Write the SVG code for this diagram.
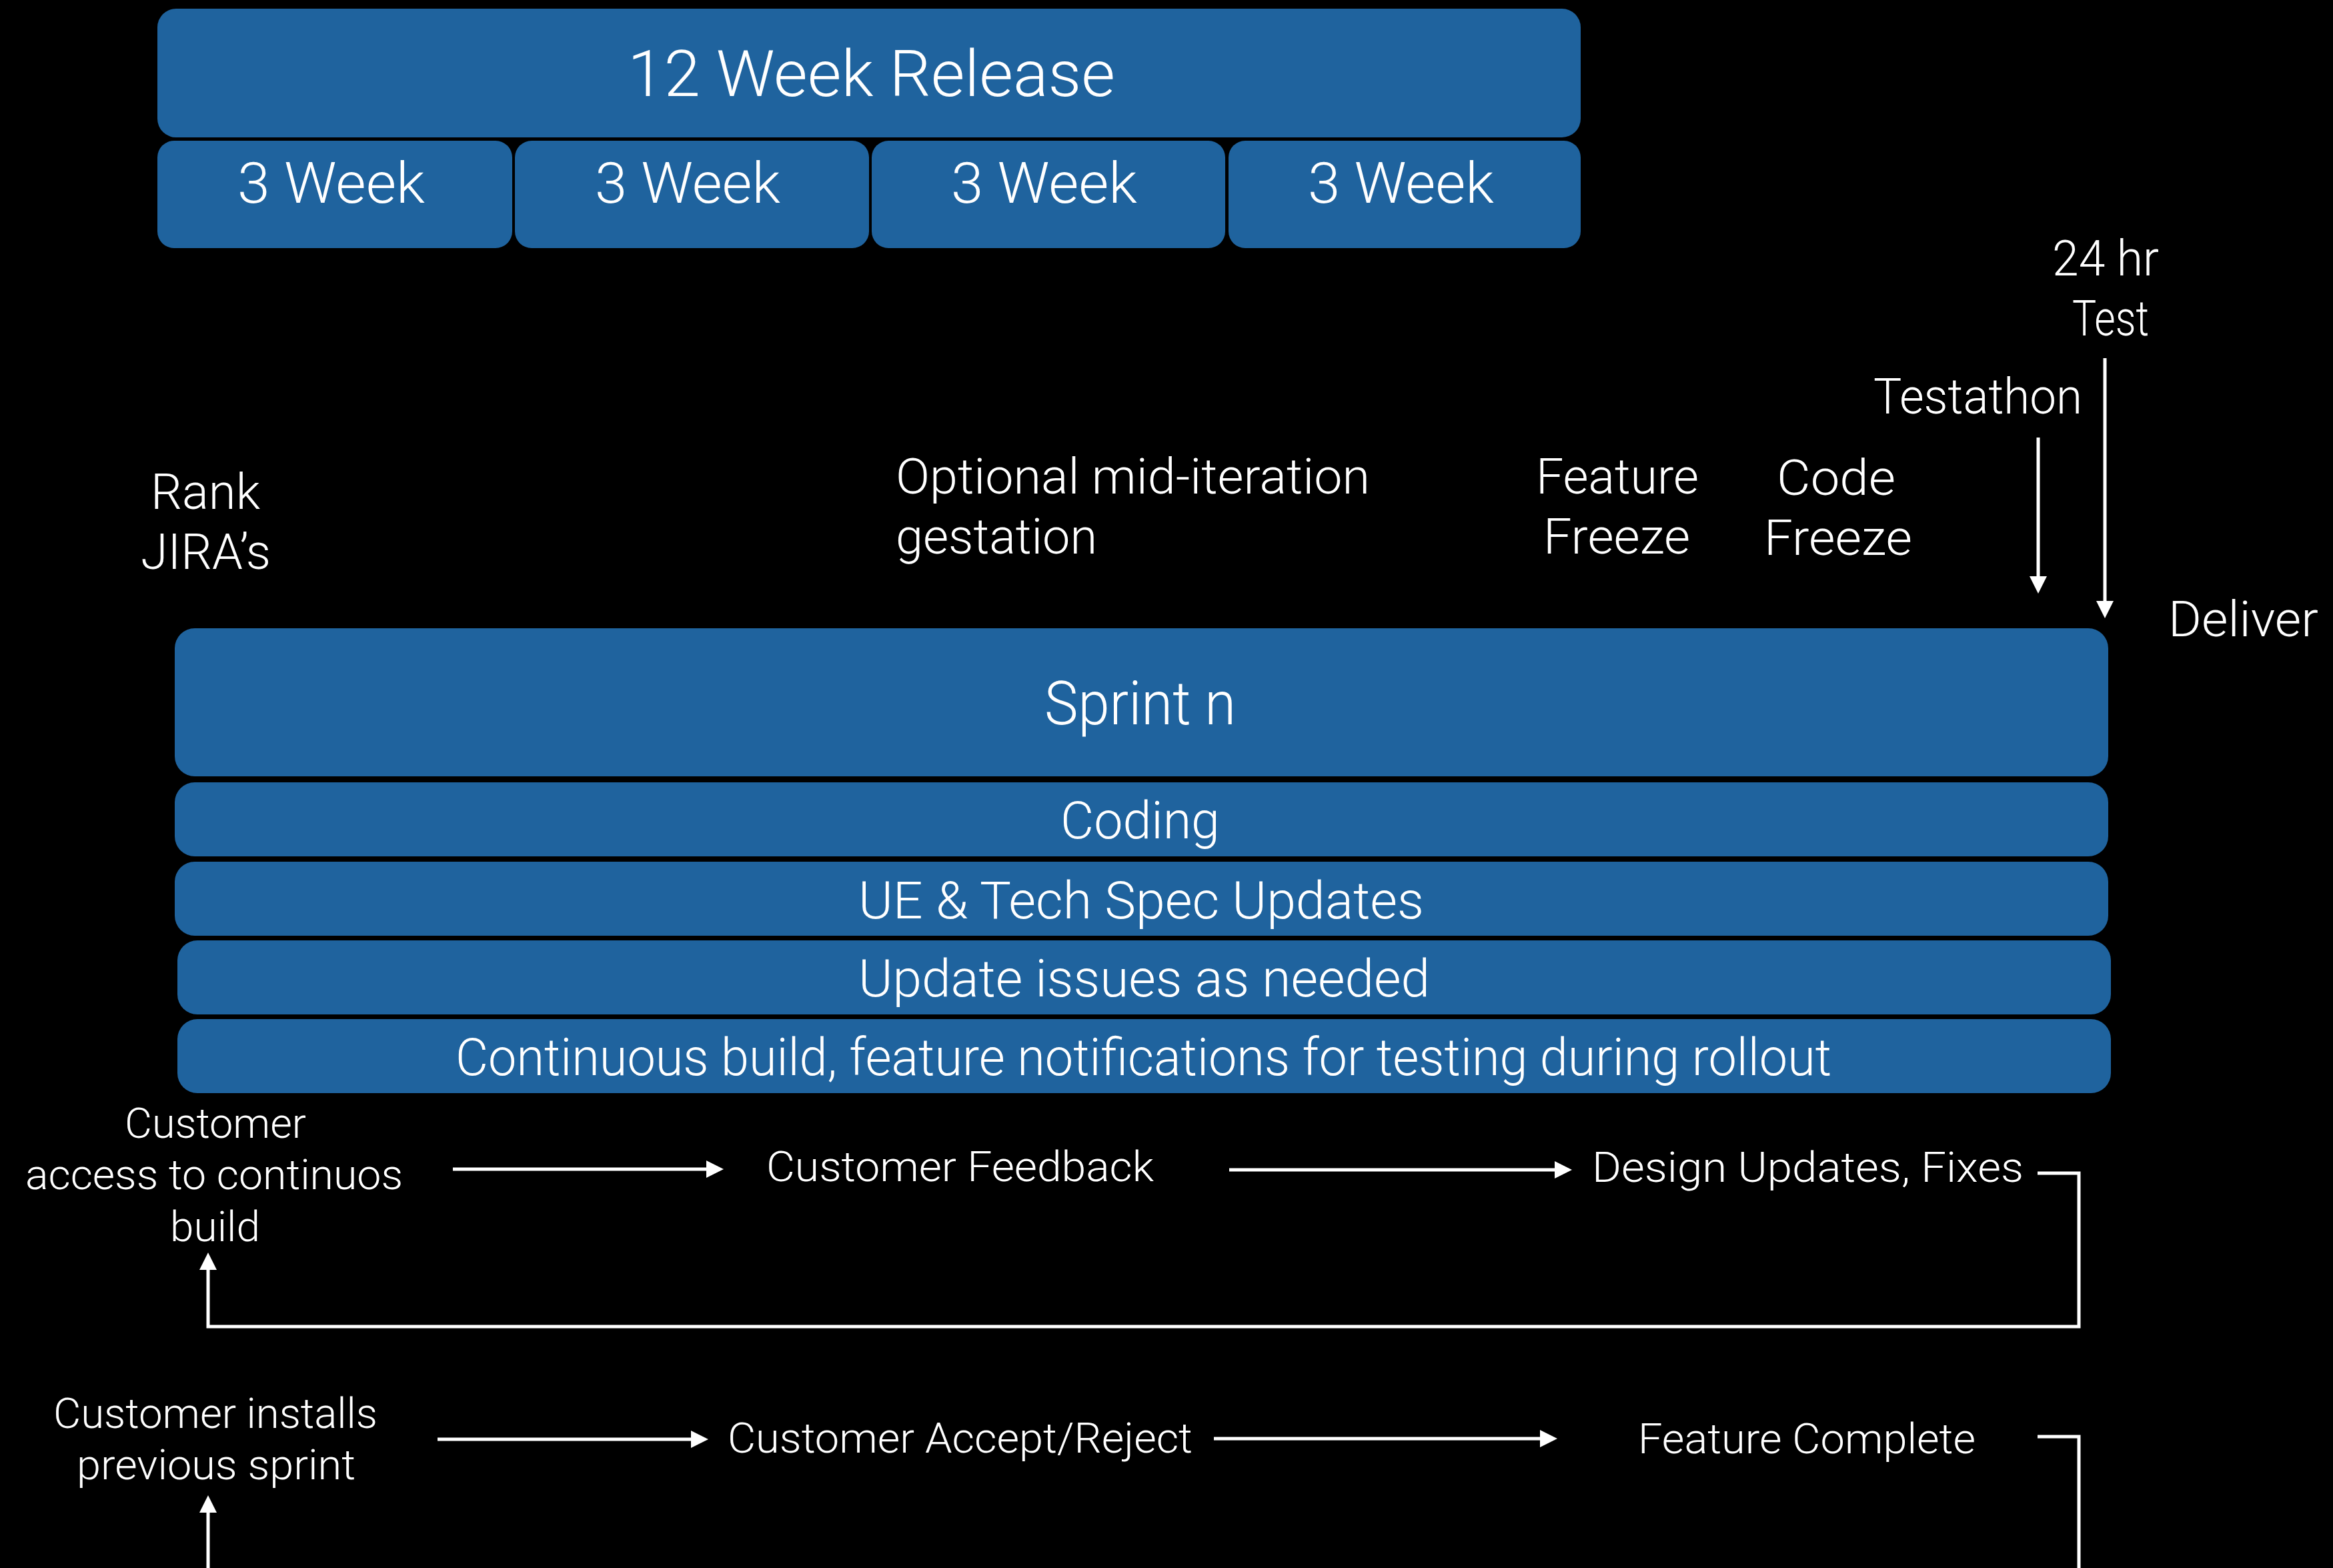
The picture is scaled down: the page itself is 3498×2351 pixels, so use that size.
<svg xmlns="http://www.w3.org/2000/svg" width="3498" height="2351" viewBox="0 0 3498 2351">
<style>
  .box { fill: #1f639e; }
  text { font-family: "Roboto", "Liberation Sans", "DejaVu Sans", sans-serif; font-weight: 300; fill: #ffffff; }
  .t96 { font-size: 96px; }
  .t90 { font-size: 90px; }
  .t85 { font-size: 85px; }
  .t77 { font-size: 77px; }
  .t74 { font-size: 74px; }
  .t63 { font-size: 63px; }
  .ln { fill: none; stroke: #ffffff; stroke-width: 5; }
</style>
<defs>
  <marker id="ah" markerUnits="userSpaceOnUse" markerWidth="26" markerHeight="26" refX="0" refY="12" orient="auto" viewBox="0 0 24 24">
    <path d="M0,0 L24,12 L0,24 z" fill="#ffffff"/>
  </marker>
</defs>
<rect x="0" y="0" width="3498" height="2351" fill="#000000"/>

<g id="release12">
  <rect class="box" x="236" y="13" width="2134" height="193" rx="28"/>
  <text class="t96" x="941" y="144" textLength="731" lengthAdjust="spacingAndGlyphs">12 Week Release</text>
</g>
<g id="week1">
  <rect class="box" x="236" y="211" width="532" height="161" rx="25"/>
  <text class="t85" x="356" y="304" textLength="281" lengthAdjust="spacingAndGlyphs">3 Week</text>
</g>
<g id="week2">
  <rect class="box" x="772" y="211" width="531" height="161" rx="25"/>
  <text class="t85" x="892" y="304" textLength="278" lengthAdjust="spacingAndGlyphs">3 Week</text>
</g>
<g id="week3">
  <rect class="box" x="1307" y="211" width="530" height="161" rx="25"/>
  <text class="t85" x="1426" y="304" textLength="279" lengthAdjust="spacingAndGlyphs">3 Week</text>
</g>
<g id="week4">
  <rect class="box" x="1842" y="211" width="528" height="161" rx="25"/>
  <text class="t85" x="1961" y="304" textLength="279" lengthAdjust="spacingAndGlyphs">3 Week</text>
</g>

<g id="test24">
  <text class="t74" x="3077" y="413" textLength="160" lengthAdjust="spacingAndGlyphs">24 hr</text>
  <text class="t74" x="3107" y="503" textLength="115" lengthAdjust="spacingAndGlyphs">Test</text>
</g>
<g id="testathon">
  <text class="t74" x="2809" y="620" textLength="313" lengthAdjust="spacingAndGlyphs">Testathon</text>
</g>
<g id="deliver">
  <text class="t74" x="3251" y="954" textLength="225" lengthAdjust="spacingAndGlyphs">Deliver</text>
</g>
<g id="codefreeze">
  <text class="t74" x="2664" y="742" textLength="178" lengthAdjust="spacingAndGlyphs">Code</text>
  <text class="t74" x="2645" y="832" textLength="222" lengthAdjust="spacingAndGlyphs">Freeze</text>
</g>
<g id="featurefreeze">
  <text class="t74" x="2303" y="740" textLength="244" lengthAdjust="spacingAndGlyphs">Feature</text>
  <text class="t74" x="2314" y="830" textLength="220" lengthAdjust="spacingAndGlyphs">Freeze</text>
</g>
<g id="optional">
  <text class="t74" x="1343" y="740" textLength="711" lengthAdjust="spacingAndGlyphs">Optional mid-iteration</text>
  <text class="t74" x="1343" y="830" textLength="302" lengthAdjust="spacingAndGlyphs">gestation</text>
</g>
<g id="rank">
  <text class="t74" x="226" y="763" textLength="164" lengthAdjust="spacingAndGlyphs">Rank</text>
  <text class="t74" x="211" y="853" textLength="195" lengthAdjust="spacingAndGlyphs">JIRA’s</text>
</g>

<g id="sprint">
  <rect class="box" x="262" y="942" width="2899" height="222" rx="30"/>
  <text class="t90" x="1566" y="1086" textLength="287" lengthAdjust="spacingAndGlyphs">Sprint n</text>
</g>
<g id="coding">
  <rect class="box" x="262" y="1173" width="2899" height="111" rx="30"/>
  <text class="t77" x="1590" y="1257" textLength="239" lengthAdjust="spacingAndGlyphs">Coding</text>
</g>
<g id="uespec">
  <rect class="box" x="262" y="1292" width="2899" height="111" rx="30"/>
  <text class="t77" x="1287" y="1377" textLength="848" lengthAdjust="spacingAndGlyphs">UE &amp; Tech Spec Updates</text>
</g>
<g id="updateissues">
  <rect class="box" x="266" y="1410" width="2899" height="111" rx="30"/>
  <text class="t77" x="1287" y="1494" textLength="857" lengthAdjust="spacingAndGlyphs">Update issues as needed</text>
</g>
<g id="continuous">
  <rect class="box" x="266" y="1528" width="2899" height="111" rx="30"/>
  <text class="t77" x="683" y="1612" textLength="2063" lengthAdjust="spacingAndGlyphs">Continuous build, feature notifications for testing during rollout</text>
</g>

<g id="custaccess">
  <text class="t63" x="187" y="1706" textLength="272" lengthAdjust="spacingAndGlyphs">Customer</text>
  <text class="t63" x="38" y="1783" textLength="566" lengthAdjust="spacingAndGlyphs">access to continuos</text>
  <text class="t63" x="255" y="1861" textLength="135" lengthAdjust="spacingAndGlyphs">build</text>
</g>
<g id="custfeedback">
  <text class="t63" x="1149" y="1771" textLength="581" lengthAdjust="spacingAndGlyphs">Customer Feedback</text>
</g>
<g id="designupdates">
  <text class="t63" x="2387" y="1772" textLength="647" lengthAdjust="spacingAndGlyphs">Design Updates, Fixes</text>
</g>
<g id="custinstalls">
  <text class="t63" x="80" y="2141" textLength="486" lengthAdjust="spacingAndGlyphs">Customer installs</text>
  <text class="t63" x="115" y="2218" textLength="418" lengthAdjust="spacingAndGlyphs">previous sprint</text>
</g>
<g id="custaccept">
  <text class="t63" x="1091" y="2178" textLength="697" lengthAdjust="spacingAndGlyphs">Customer Accept/Reject</text>
</g>
<g id="featurecomplete">
  <text class="t63" x="2456" y="2179" textLength="506" lengthAdjust="spacingAndGlyphs">Feature Complete</text>
</g>

<g id="connectors">
  <line class="ln" x1="3156" y1="537" x2="3156" y2="901" marker-end="url(#ah)"/>
  <line class="ln" x1="3056" y1="656" x2="3056" y2="864" marker-end="url(#ah)"/>
  <line class="ln" x1="679" y1="1753" x2="1059" y2="1753" marker-end="url(#ah)"/>
  <line class="ln" x1="1843" y1="1754" x2="2331" y2="1754" marker-end="url(#ah)"/>
  <path class="ln" d="M3055,1759 H3117 V1989 H312 V1904" marker-end="url(#ah)"/>
  <line class="ln" x1="656" y1="2158" x2="1036" y2="2158" marker-end="url(#ah)"/>
  <line class="ln" x1="1820" y1="2157" x2="2309" y2="2157" marker-end="url(#ah)"/>
  <path class="ln" d="M3055,2154 H3117 V2360"/>
  <line class="ln" x1="312" y1="2360" x2="312" y2="2268" marker-end="url(#ah)"/>
</g>
</svg>
